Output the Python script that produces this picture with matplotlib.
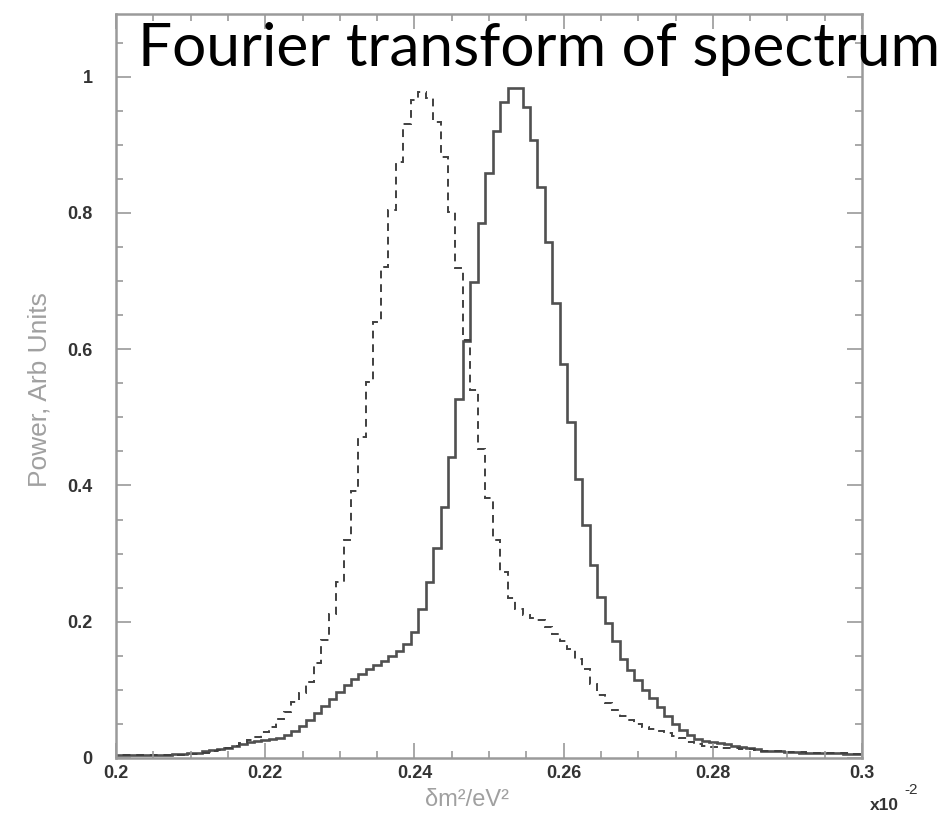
import numpy as np
import matplotlib
matplotlib.use("Agg")
import matplotlib.pyplot as plt
from matplotlib.ticker import MultipleLocator

# bin centres (x10^-2), one bin per 0.001
centres = np.round(np.arange(0.200, 0.3005, 0.001), 4)

# solid histogram
solid = [
    0.004, 0.004, 0.004, 0.004, 0.005, 0.005, 0.005, 0.005, 0.006, 0.006,
    0.007, 0.008, 0.010, 0.012, 0.013, 0.015, 0.018, 0.021, 0.023, 0.025,
    0.026, 0.028, 0.030, 0.034, 0.040, 0.047, 0.056, 0.066, 0.077, 0.087,
    0.097, 0.107, 0.116, 0.124, 0.131, 0.137, 0.143, 0.149, 0.157, 0.168,
    0.185, 0.218, 0.259, 0.308, 0.369, 0.442, 0.527, 0.612, 0.699, 0.785,
    0.858, 0.921, 0.963, 0.984, 0.984, 0.956, 0.907, 0.838, 0.758, 0.668,
    0.578, 0.493, 0.410, 0.342, 0.283, 0.237, 0.198, 0.171, 0.146, 0.129,
    0.114, 0.100, 0.088, 0.075, 0.061, 0.050, 0.041, 0.034, 0.028, 0.025,
    0.024, 0.022, 0.020, 0.018, 0.016, 0.014, 0.013, 0.011, 0.010, 0.010,
    0.009, 0.009, 0.008, 0.008, 0.008, 0.007, 0.007, 0.007, 0.006, 0.006,
    0.006,
]

# dashed histogram
dashed = [
    0.004, 0.004, 0.004, 0.004, 0.004, 0.005, 0.005, 0.005, 0.005, 0.005,
    0.006, 0.006, 0.008, 0.010, 0.012, 0.015, 0.018, 0.022, 0.026, 0.031,
    0.038, 0.046, 0.057, 0.068, 0.082, 0.095, 0.112, 0.140, 0.173, 0.212,
    0.259, 0.320, 0.392, 0.471, 0.552, 0.640, 0.721, 0.804, 0.875, 0.931,
    0.966, 0.978, 0.968, 0.934, 0.882, 0.802, 0.719, 0.613, 0.540, 0.454,
    0.381, 0.320, 0.273, 0.235, 0.218, 0.210, 0.206, 0.203, 0.193, 0.182,
    0.172, 0.160, 0.145, 0.130, 0.108, 0.092, 0.080, 0.070, 0.062, 0.056,
    0.050, 0.046, 0.043, 0.039, 0.036, 0.032, 0.029, 0.024, 0.021, 0.018,
    0.016, 0.015, 0.014, 0.014, 0.013, 0.013, 0.012, 0.011, 0.011, 0.010,
    0.009, 0.009, 0.009, 0.008, 0.008, 0.008, 0.007, 0.007, 0.007, 0.006,
    0.006,
]

x_ticks = [0.2, 0.22, 0.24, 0.26, 0.28, 0.3]
x_labels = ["0.2", "0.22", "0.24", "0.26", "0.28", "0.3"]
y_ticks = [0, 0.2, 0.4, 0.6, 0.8, 1.0]
y_labels = ["0", "0.2", "0.4", "0.6", "0.8", "1"]

FRAME = "#9a9a9a"
LABEL = "#333333"

fig = plt.figure(figsize=(9.44, 8.19), dpi=100)
ax = fig.add_axes([116 / 944, 1 - 758 / 819, 746 / 944, 744 / 819])

edges = np.append(centres - 0.0005, centres[-1] + 0.0005)
ax.stairs(solid, edges, color="#505050", lw=1.9)
ax.stairs(dashed, edges, color="#404040", lw=1.4, linestyle=(0, (4, 3)))

ax.set_xlim(0.2, 0.3)
ax.set_ylim(0, 1.092)

ax.set_xticks(x_ticks)
ax.set_xticklabels(x_labels)
ax.set_yticks(y_ticks)
ax.set_yticklabels(y_labels)
ax.xaxis.set_minor_locator(MultipleLocator(0.005))
ax.yaxis.set_minor_locator(MultipleLocator(0.05))

ax.tick_params(which="both", direction="in", top=True, right=True,
               color=FRAME, width=1.2)
ax.tick_params(which="major", length=11)
ax.tick_params(which="minor", length=5)
ax.tick_params(axis="x", which="major", pad=5)
ax.tick_params(axis="y", which="major", pad=17)
for lab in ax.get_xticklabels() + ax.get_yticklabels():
    lab.set_fontfamily("Liberation Sans")
    lab.set_fontweight("bold")
    lab.set_fontsize(13)
    lab.set_color(LABEL)

for sp in ax.spines.values():
    sp.set_color(FRAME)
    sp.set_linewidth(1.8)

fig.text(138 / 944, 1 - 66 / 819, "Fourier transform of spectrum",
         fontsize=43.5, family="Lato", color="black", ha="left", va="baseline")
fig.text(40 / 944, 1 - 390 / 819, "Power, Arb Units", rotation=90,
         fontsize=19, family="Liberation Sans", color="#a0a0a0",
         ha="center", va="center")
fig.text(467 / 944, 1 - 800 / 819, "δm²/eV²", fontsize=17,
         family="Liberation Sans", color="#a0a0a0", ha="center", va="center")
fig.text(884 / 944, 1 - 806 / 819, "x10", fontsize=12.5, fontweight="bold",
         family="Liberation Sans", color=LABEL, ha="center", va="center")
fig.text(911 / 944, 1 - 790 / 819, "-2", fontsize=11,
         family="Liberation Sans", color=LABEL, ha="center", va="center")

fig.savefig("out.png", dpi=100, facecolor="white")
